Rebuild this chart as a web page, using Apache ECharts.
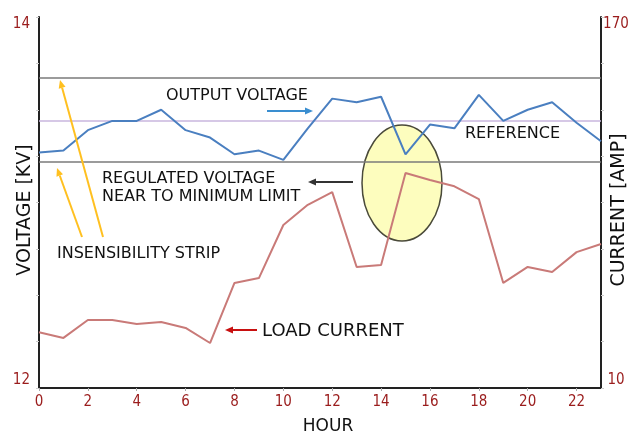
<!DOCTYPE html>
<html>
<head>
<meta charset="utf-8">
<script src="https://cdn.jsdelivr.net/npm/echarts@6/dist/echarts.min.js"></script>
<style>
  html, body { margin: 0; padding: 0; background: #fff; }
  #chart { width: 636px; height: 435px; }
</style>
</head>
<body>
<div id="chart"></div>
<script>
// hourly readings
var hours = [0, 1, 2, 3, 4, 5, 6, 7, 8, 9, 10, 11, 12, 13, 14, 15, 16, 17, 18, 19, 20, 21, 22, 23];
var outputVoltage = [13.27, 13.28, 13.39, 13.44, 13.44, 13.50, 13.39, 13.35, 13.26, 13.28, 13.23, 13.40,
                     13.56, 13.54, 13.57, 13.26, 13.42, 13.40, 13.58, 13.44, 13.50, 13.54, 13.43, 13.33];
var loadCurrent = [34.0, 31.6, 39.3, 39.3, 37.6, 38.5, 35.9, 29.4, 55.3, 57.4, 80.3, 89.0,
                   94.5, 62.2, 63.0, 102.7, 99.7, 97.0, 91.5, 55.3, 62.2, 60.0, 68.6, 72.1];
// strip limits and reference (kV)
var stripLimits = [13.67, 13.22];
var referenceLevel = 13.44;
// axis ranges
var voltageRange = [12, 14];
var currentRange = [10, 170];
var hourRange = [0, 23];

var chart = echarts.init(document.getElementById('chart'));

var tickRed = '#9a1c1c';
var txtFont = '"DejaVu Sans", sans-serif';

function pairs(ys) {
  return hours.map(function (h, i) { return [h, ys[i]]; });
}

// simple arrow: line + triangular head at (x2,y2)
function arrow(x1, y1, x2, y2, color, w) {
  var a = Math.atan2(y2 - y1, x2 - x1), len = 8, hw = 3.5;
  var bx = x2 - len * Math.cos(a), by = y2 - len * Math.sin(a);
  var px = -Math.sin(a) * hw, py = Math.cos(a) * hw;
  return [
    { type: 'line', z: 10, shape: { x1: x1, y1: y1, x2: bx, y2: by }, style: { stroke: color, lineWidth: w } },
    { type: 'polygon', z: 10, shape: { points: [[x2, y2], [bx + px, by + py], [bx - px, by - py]] }, style: { fill: color } }
  ];
}

function note(text, x, y, size) {
  return { type: 'text', z: 10, x: x, y: y,
    style: { text: text, font: size + 'px ' + txtFont, fill: '#111', align: 'left', verticalAlign: 'middle' } };
}

var graphics = [
  // ellipse marking the dip
  { type: 'ellipse', z: 1, shape: { cx: 402, cy: 183, rx: 40, ry: 58 },
    style: { fill: '#fdfdbe', stroke: '#4a4a3a', lineWidth: 1.5 } },
  note('OUTPUT VOLTAGE', 166, 96, 16),
  note('REFERENCE', 465, 134, 16),
  note('REGULATED VOLTAGE', 102, 179, 16),
  note('NEAR TO MINIMUM LIMIT', 102, 197, 16),
  note('INSENSIBILITY STRIP', 57, 254, 16),
  note('LOAD CURRENT', 262, 331, 18),
  // axis titles
  { type: 'text', x: 25, y: 210, rotation: Math.PI / 2,
    style: { text: 'VOLTAGE [KV]', font: '19px ' + txtFont, fill: '#111', align: 'center', verticalAlign: 'middle' } },
  { type: 'text', x: 619, y: 210, rotation: Math.PI / 2,
    style: { text: 'CURRENT [AMP]', font: '19px ' + txtFont, fill: '#111', align: 'center', verticalAlign: 'middle' } },
  { type: 'text', x: 328, y: 427,
    style: { text: 'HOUR', font: '17px ' + txtFont, fill: '#111', align: 'center', verticalAlign: 'middle' } }
].concat(
  arrow(267, 111, 313, 111, '#3a8ed0', 2),
  arrow(353, 182, 308, 182, '#333', 2),
  arrow(257, 330, 225, 330, '#c81010', 2),
  arrow(103, 237, 60, 80, '#ffc020', 2),
  arrow(82, 237, 57, 168, '#ffc020', 2)
);

function endsOnly(lo, hi) {
  return function (v) { return (v === lo || v === hi) ? String(v) : ''; };
}

chart.setOption({
  animation: false,
  grid: { left: 39, right: 35, top: 17, bottom: 47 },
  xAxis: {
    type: 'value',
    min: hourRange[0], max: hourRange[1], interval: 2,
    splitLine: { show: false },
    axisLine: { lineStyle: { color: '#222', width: 2 } },
    axisTick: { length: 3, lineStyle: { color: '#aaa' } },
    axisLabel: { showMaxLabel: false, margin: 7, color: tickRed,
      fontFamily: '"DejaVu Sans Condensed", "DejaVu Sans"', fontSize: 15 }
  },
  yAxis: [
    {
      type: 'value', position: 'left',
      min: voltageRange[0], max: voltageRange[1], interval: 0.25,
      splitLine: { show: false },
      axisLine: { show: true, lineStyle: { color: '#222', width: 2 } },
      axisTick: { show: true, length: 3, lineStyle: { color: '#ccc' } },
      axisLabel: { formatter: endsOnly(voltageRange[0], voltageRange[1]), color: tickRed,
        fontFamily: '"DejaVu Sans Condensed", "DejaVu Sans"', fontSize: 15,
        margin: 9, verticalAlignMaxLabel: 'top', verticalAlignMinLabel: 'bottom' }
    },
    {
      type: 'value', position: 'right',
      min: currentRange[0], max: currentRange[1], interval: 20,
      splitLine: { show: false },
      axisLine: { show: true, lineStyle: { color: '#222', width: 2 } },
      axisTick: { show: true, length: 3, lineStyle: { color: '#ccc' } },
      axisLabel: { formatter: endsOnly(currentRange[0], currentRange[1]), color: tickRed,
        fontFamily: '"DejaVu Sans Condensed", "DejaVu Sans"', fontSize: 15,
        align: 'center', margin: 15, verticalAlignMaxLabel: 'top', verticalAlignMinLabel: 'bottom' }
    }
  ],
  series: [
    {
      name: 'Output voltage', type: 'line', yAxisIndex: 0,
      data: pairs(outputVoltage), showSymbol: false, z: 4,
      lineStyle: { color: '#4a7fc0', width: 2 },
      markLine: {
        silent: true, symbol: 'none', label: { show: false }, z: 3,
        data: [
          { yAxis: stripLimits[0], lineStyle: { color: '#7a7a7a', width: 1.5, type: 'solid' } },
          { yAxis: referenceLevel, lineStyle: { color: '#c9b6de', width: 1.5, type: 'solid' } },
          { yAxis: stripLimits[1], lineStyle: { color: '#7a7a7a', width: 1.5, type: 'solid' } }
        ]
      }
    },
    {
      name: 'Load current', type: 'line', yAxisIndex: 1,
      data: pairs(loadCurrent), showSymbol: false, z: 4,
      lineStyle: { color: '#c97a78', width: 2 }
    }
  ],
  graphic: graphics
});
</script>
</body>
</html>
